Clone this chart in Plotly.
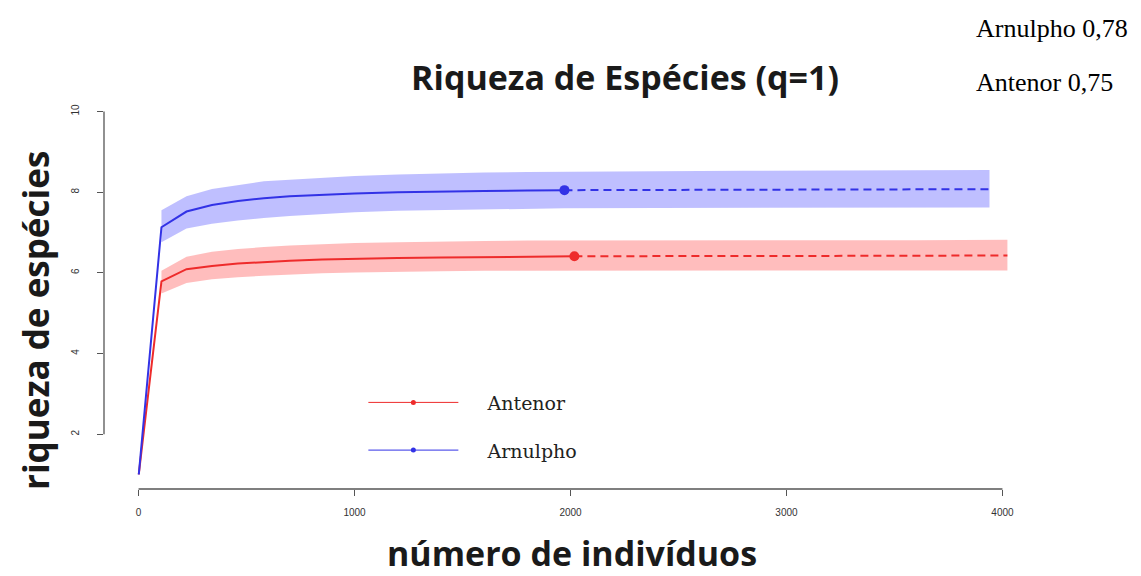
import plotly.graph_objects as go

# ---- data ----
n_blue_obs = [1, 106, 222, 340, 460, 580, 700, 850, 1000, 1200, 1400, 1600, 1800, 1972]
S_blue_obs = [1.0, 7.13, 7.52, 7.68, 7.78, 7.85, 7.90, 7.94, 7.97, 8.00, 8.02, 8.03, 8.04, 8.05]
n_blue_ext = [1972, 2400, 2800, 3200, 3600, 3940]
S_blue_ext = [8.05, 8.06, 8.06, 8.07, 8.07, 8.07]
n_blue_band = [106, 222, 340, 460, 580, 700, 850, 1000, 1200, 1400, 1600, 1800, 1972, 2400, 2800, 3200, 3600, 3940]
blue_lo = [6.76, 7.10, 7.22, 7.30, 7.36, 7.41, 7.46, 7.50, 7.54, 7.56, 7.58, 7.59, 7.60, 7.61, 7.61, 7.62, 7.62, 7.62]
blue_hi = [7.55, 7.90, 8.08, 8.18, 8.27, 8.31, 8.36, 8.40, 8.44, 8.47, 8.49, 8.50, 8.51, 8.52, 8.53, 8.54, 8.54, 8.55]

n_red_obs = [1, 106, 222, 340, 460, 580, 700, 850, 1000, 1200, 1400, 1600, 1800, 2018]
S_red_obs = [1.0, 5.79, 6.09, 6.17, 6.23, 6.27, 6.30, 6.33, 6.35, 6.37, 6.38, 6.39, 6.40, 6.41]
n_red_ext = [2018, 2400, 2800, 3200, 3600, 4023]
S_red_ext = [6.41, 6.42, 6.42, 6.42, 6.43, 6.43]
n_red_band = [106, 222, 340, 460, 580, 700, 850, 1000, 1200, 1400, 1600, 1800, 2018, 2400, 2800, 3200, 3600, 4023]
red_lo = [5.49, 5.75, 5.84, 5.89, 5.93, 5.96, 5.99, 6.01, 6.03, 6.04, 6.05, 6.05, 6.06, 6.06, 6.06, 6.06, 6.06, 6.06]
red_hi = [6.05, 6.40, 6.52, 6.59, 6.64, 6.68, 6.71, 6.74, 6.76, 6.78, 6.79, 6.80, 6.80, 6.81, 6.81, 6.81, 6.81, 6.82]

x_ticks = [0, 1000, 2000, 3000, 4000]
y_ticks = [2, 4, 6, 8, 10]
sites = ["Antenor", "Arnulpho"]
evenness = {"Arnulpho": "0,78", "Antenor": "0,75"}

RED = "#ee2b2b"
BLUE = "#3232e6"
RED_FILL = "rgba(255,0,0,0.26)"
BLUE_FILL = "rgba(0,0,255,0.25)"
TITLE_FONT = "Open Sans"

fig = go.Figure()

def band(xs, lo, hi, fill):
    fig.add_trace(go.Scatter(x=xs + xs[::-1], y=hi + lo[::-1], fill="toself",
                             fillcolor=fill, line=dict(width=0), mode="lines",
                             hoverinfo="skip", showlegend=False))

band(n_red_band, red_lo, red_hi, RED_FILL)
band(n_blue_band, blue_lo, blue_hi, BLUE_FILL)

PAD = "\u00a0" * 4
for name, nobs, sobs, next_, sext, col in [
    ("Antenor", n_red_obs, S_red_obs, n_red_ext, S_red_ext, RED),
    ("Arnulpho", n_blue_obs, S_blue_obs, n_blue_ext, S_blue_ext, BLUE),
]:
    fig.add_trace(go.Scatter(x=next_, y=sext, mode="lines",
                             line=dict(color=col, width=2, dash="8px,5px"), showlegend=False))
    fig.add_trace(go.Scatter(x=nobs, y=sobs, mode="lines",
                             line=dict(color=col, width=2), showlegend=False))
    fig.add_trace(go.Scatter(x=[nobs[-1]], y=[sobs[-1]], mode="markers",
                             marker=dict(color=col, size=10), showlegend=False))
    # legend entry
    fig.add_trace(go.Scatter(x=[None], y=[None], mode="lines+markers", name=PAD + name,
                             legendgroup=name,
                             line=dict(color=col, width=1), marker=dict(color=col, size=5)))

# R-style axis lines limited to tick range
fig.add_shape(type="line", xref="x", yref="paper", x0=x_ticks[0], x1=x_ticks[-1], y0=0, y1=0,
              line=dict(color="#555", width=1.3))
fig.add_shape(type="line", xref="paper", yref="y", x0=0, x1=0, y0=y_ticks[0], y1=y_ticks[-1],
              line=dict(color="#555", width=1.3))

W, H = 1141, 576
L, R, T, B = 104, 104, 97, 87
PW, PH = W - L - R, H - T - B
fig.update_layout(
    width=W, height=H,
    margin=dict(l=L, r=R, t=T, b=B),
    plot_bgcolor="white", paper_bgcolor="white",
    showlegend=True,
    legend=dict(x=0.278, y=0.269, xanchor="left", yanchor="top",
                font=dict(family="DejaVu Serif", size=19, color="#222"),
                bgcolor="rgba(0,0,0,0)", itemwidth=90, tracegroupgap=20),
    title=dict(text="<b>Riqueza de Espécies (q=1)</b>", x=625 / W, xref="container",
               xanchor="center", y=1 - 78 / H, yanchor="middle",
               font=dict(family=TITLE_FONT, size=34, color="#1a1a1a")),
    xaxis=dict(range=[-160, 4160], tickvals=x_ticks, ticktext=[str(v) for v in x_ticks],
               showgrid=False, zeroline=False, showline=False,
               ticks="outside", ticklen=6, tickcolor="#555", tickwidth=1.3,
               ticklabelstandoff=8,
               tickfont=dict(family="Liberation Sans Narrow, Arial", size=10, color="#333")),
    yaxis=dict(range=[0.64, 10.36], tickvals=y_ticks, ticktext=[str(v) for v in y_ticks],
               showgrid=False, zeroline=False, showline=False,
               ticks="outside", ticklen=6, tickcolor="#555", tickwidth=1.3, tickangle=-90,
               ticklabelstandoff=14,
               tickfont=dict(family="Liberation Sans Narrow, Arial", size=10, color="#333")),
)

fig.add_annotation(text="<b>número de indivíduos</b>", xref="paper", yref="paper",
                   x=(572 - L) / PW, y=0, yshift=-(553 - (H - B)),
                   showarrow=False, xanchor="center", yanchor="middle",
                   font=dict(family=TITLE_FONT, size=34, color="#1a1a1a"))
fig.add_annotation(text="<b>riqueza de espécies</b>", xref="paper", yref="paper",
                   x=0, xshift=-(L - 35), y=((H - B) - 321) / PH,
                   showarrow=False, textangle=-90, xanchor="center", yanchor="middle",
                   font=dict(family=TITLE_FONT, size=35, color="#1a1a1a"))
for i, s in enumerate(["Arnulpho", "Antenor"]):
    fig.add_annotation(text=f"{s} {evenness[s]}", xref="paper", yref="paper",
                       x=(976 - L) / PW, xshift=-2, y=1, yshift=T - [28, 82][i],
                       showarrow=False, xanchor="left", yanchor="middle",
                       font=dict(family="Liberation Serif", size=26, color="#000"))

fig.write_html("out.html", config={"displayModeBar": False},
               post_script="document.body.style.margin='0px';")
